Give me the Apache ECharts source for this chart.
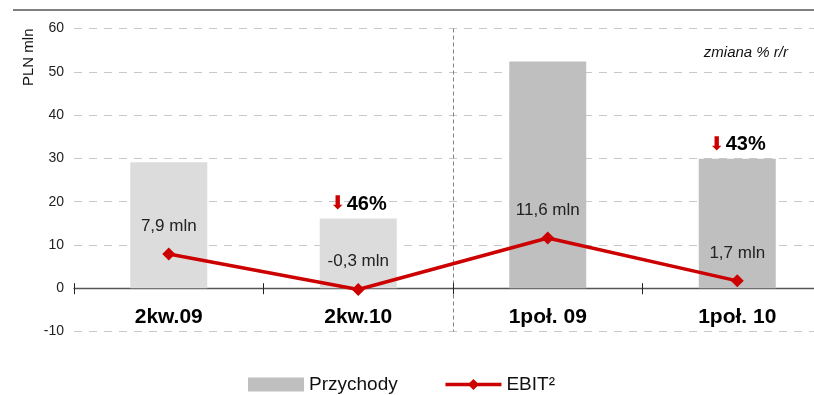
<!DOCTYPE html>
<html>
<head>
<meta charset="utf-8">
<script src="https://cdn.jsdelivr.net/npm/echarts@6/dist/echarts.min.js"></script>
<style>
  html, body { margin: 0; padding: 0; background: #fff; }
  #chart { width: 814px; height: 395px; }
</style>
</head>
<body>
<div id="chart"></div>
<script>
// Kategorie okresów
const categories = ['2kw.09', '2kw.10', '1poł. 09', '1poł. 10'];
// Przychody, PLN mln
const revenue = [29.1, 16.1, 52.4, 29.9];
// EBIT, PLN mln
const ebit = [7.9, -0.3, 11.6, 1.7];
// Zmiana % r/r przychodów (tylko dla okresów bieżących)
const revenueChange = [null, '46%', null, '43%'];
// Podziałka osi Y
const yTicks = [-10, 0, 10, 20, 30, 40, 50, 60];

const FONT = '"Liberation Sans", Arial, sans-serif';
const barColors = ['#dcdcdc', '#dcdcdc', '#bfbfbf', '#bfbfbf'];

const yMin = yTicks[0];
const yMax = yTicks[yTicks.length - 1];
const gridTop = 28.5;
const gridHeight = 303;
// przesunięcie osi kategorii na poziom zera
const zeroOffset = -gridHeight * (0 - yMin) / (yMax - yMin);

const chart = echarts.init(document.getElementById('chart'), null, { renderer: 'canvas' });

chart.setOption({
  animation: false,
  textStyle: { fontFamily: FONT },
  grid: { left: 74, top: gridTop, width: 758, height: gridHeight, containLabel: false, outerBoundsMode: 'none' },
  legend: {
    left: 243,
    top: 370,
    itemWidth: 56,
    itemHeight: 14,
    itemGap: 46,
    textStyle: { fontSize: 19, color: '#111', fontFamily: FONT },
    data: [
      { name: 'Przychody', icon: 'rect' },
      { name: 'EBIT²', lineStyle: { width: 3.5, color: '#cc0000' } }
    ]
  },
  xAxis: [
    {
      type: 'category',
      data: categories,
      offset: zeroOffset,
      axisLine: { onZero: false, lineStyle: { color: '#555', width: 1.3 } },
      axisTick: { show: true, interval: 0, length: 6, lineStyle: { color: '#222' } },
      axisLabel: { margin: 18, fontSize: 21, fontWeight: 'bold', color: '#000', fontFamily: FONT },
      splitLine: { show: false }
    },
    {
      // krótkie kreski podziałki nad osią
      type: 'category',
      data: categories,
      position: 'bottom',
      offset: zeroOffset,
      axisLine: { show: false, onZero: false },
      axisTick: { show: true, inside: true, interval: 0, length: 5, lineStyle: { color: '#222' } },
      axisLabel: { show: false },
      splitLine: { show: false }
    },
    {
      // linia oddzielająca kwartały od półroczy
      type: 'value',
      min: 0,
      max: categories.length,
      interval: 2,
      show: true,
      axisLine: { show: false },
      axisTick: { show: false },
      axisLabel: { show: false },
      splitLine: {
        show: true,
        showMinLine: false,
        showMaxLine: false,
        lineStyle: { color: '#808080', type: [4, 3], width: 1 }
      }
    }
  ],
  yAxis: {
    type: 'value',
    min: yMin,
    max: yMax,
    interval: 10,
    name: 'PLN mln',
    nameLocation: 'end',
    nameRotate: 90,
    nameGap: 0,
    nameTextStyle: { fontSize: 15, color: '#111', align: 'right', verticalAlign: 'bottom', padding: [0, 0, 38, 0] },
    axisLine: { show: false },
    axisTick: { show: false },
    axisLabel: { fontSize: 14, color: '#222', margin: 10 },
    splitLine: { lineStyle: { color: '#c8c8c8', type: [8, 7], width: 1 } }
  },
  graphic: [
    { type: 'line', shape: { x1: 13, y1: 10, x2: 814, y2: 10 }, style: { stroke: '#555', lineWidth: 1.5 } },
    { type: 'text', right: 26, top: 45, style: { text: 'zmiana % r/r', font: 'italic 15px ' + FONT, fill: '#111' } }
  ],
  series: [
    {
      name: 'Przychody',
      type: 'bar',
      xAxisIndex: 0,
      barWidth: 77,
      itemStyle: { color: '#bfbfbf' },
      data: revenue.map(function (v, i) {
        const item = { value: v, itemStyle: { color: barColors[i] } };
        if (revenueChange[i]) {
          item.label = {
            show: true,
            position: 'top',
            distance: 4,
            formatter: '{a|⬇}{p|' + revenueChange[i] + '}',
            rich: {
              a: { color: '#cc0000', fontSize: 19, fontFamily: 'DejaVu Sans', padding: [0, 1, 0, 0] },
              p: { color: '#000', fontSize: 20, fontWeight: 'bold', fontFamily: FONT }
            }
          };
        }
        return item;
      })
    },
    {
      name: 'EBIT²',
      type: 'line',
      xAxisIndex: 0,
      data: ebit,
      symbol: 'diamond',
      symbolSize: 13,
      lineStyle: { color: '#cc0000', width: 3.5 },
      itemStyle: { color: '#cc0000' },
      label: {
        show: true,
        position: 'top',
        distance: 13,
        fontSize: 17,
        color: '#222',
        fontFamily: FONT,
        formatter: function (p) { return p.value.toFixed(1).replace('.', ',') + ' mln'; }
      },
      z: 5
    }
  ]
});
</script>
</body>
</html>
